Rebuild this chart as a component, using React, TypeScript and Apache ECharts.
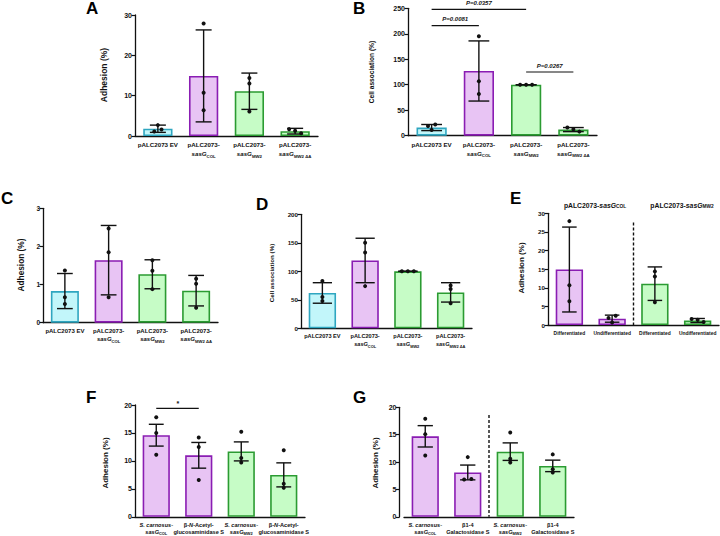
import React, { useEffect, useRef } from "react";
import * as echarts from "echarts";

const FONT = "'Liberation Sans', Arial, sans-serif";
const TXT = "#111111";

// ---------- categories / labels ----------
const labelsPALC = [
  "pALC2073 EV",
  "pALC2073-\n{i|sasG}{s|COL}",
  "pALC2073-\n{i|sasG}{s|MW2}",
  "pALC2073-\n{i|sasG}{s|MW2 ΔA}",
];
const labelsE = ["Differentiated", "Undifferentiated", "Differentiated", "Undifferentiated"];
const labelsF = [
  "{it|S. carnosus-}\n{i|sasG}{s|COL}",
  "β-{it|N}-Acetyl-\nglucosaminidase S",
  "{it|S. carnosus-}\n{i|sasG}{s|MW2}",
  "β-{it|N}-Acetyl-\nglucosaminidase S",
];
const labelsG = [
  "{it|S. carnosus-}\n{i|sasG}{s|COL}",
  "β1-4\nGalactosidase S",
  "{it|S. carnosus-}\n{i|sasG}{s|MW2}",
  "β1-4\nGalactosidase S",
];

// ---------- values ----------
const meansA = [1.8, 14.9, 11.1, 1.2];
const errA = [0.9, 11.4, 4.5, 0.7];
const ptsA = [[2.7, 1.6, 1.1], [27.9, 10.7, 6.4], [14.4, 13.0, 6.1], [1.7, 1.3, 0.7]];

const meansB = [16, 127, 100, 12];
const errB = [6, 59, 0, 4];
const ptsB = [[22, 19, 11], [195, 107, 82], [100, 100, 100], [16, 12.5, 8]];

const meansC = [0.83, 1.64, 1.27, 0.84];
const errC = [0.46, 0.91, 0.38, 0.4];
const ptsC = [[1.37, 0.67, 0.49], [2.47, 1.85, 0.67], [1.64, 1.36, 0.88], [1.15, 1.02, 0.39]];

const meansD = [62, 119, 100, 63];
const errD = [18, 39, 0, 17];
const ptsD = [[83, 55, 48], [150, 133, 74], [100, 100, 100], [75, 69, 44]];

const meansE = [14.9, 1.7, 11.1, 1.2];
const errE = [11.4, 0.95, 4.5, 0.55];
const ptsE = [[27.9, 10.7, 6.4], [2.5, 1.9, 0.7], [14.4, 13.0, 6.1], [1.6, 1.4, 0.8]];

const meansF = [14.6, 11.0, 11.7, 7.5];
const errF = [1.95, 2.3, 1.7, 2.15];
const ptsF = [[17.8, 15.0, 11.1], [14.2, 12.5, 6.6], [15.2, 10.5, 9.7], [11.9, 5.9, 5.2]];

const meansG = [14.7, 8.1, 11.9, 9.3];
const errG = [1.95, 1.35, 1.6, 1.05];
const ptsG = [[17.9, 15.1, 11.2], [10.9, 6.9, 6.8], [15.4, 10.6, 9.9], [11.4, 8.7, 8.1]];

const sigB = [
  { from: 0, to: 2, y: 248, text: "P=0.0357" },
  { from: 0, to: 1, y: 216, text: "P=0.0081" },
  { from: 2, to: 3, y: 125, text: "P=0.0267" },
];
const sigF = [{ from: 0, to: 1, y: 19.4, text: "*" }];

// ---------- styles ----------
const CYAN: [string, string] = ["#c2f6fa", "#2fa6c0"];
const PURP: [string, string] = ["#e8c4f4", "#8a1db3"];
const GREEN: [string, string] = ["#c6fcc6", "#2b9b32"];
const colorsPALC = [CYAN, PURP, GREEN, GREEN];
const colorsPair = [PURP, PURP, GREEN, GREEN];

type Sig = { from: number; to: number; y: number; text: string };
type Panel = {
  grid: { left: number; top: number; width: number; height: number };
  labels: string[];
  means: number[];
  errs: number[];
  pts: number[][];
  colors: [string, string][];
  max: number;
  interval: number;
  cap: number;
  labelSize: number;
  tickSize: number;
  yOffset?: number;
  sig?: Sig[];
  divider?: number;
  lineH: number;
};

const panels: Panel[] = [
  { grid: { left: 135, top: 15, width: 183, height: 121 }, labels: labelsPALC, means: meansA, errs: errA, pts: ptsA, colors: colorsPALC, max: 30, interval: 10, cap: 0.35, labelSize: 6.2, tickSize: 7, lineH: 9 },
  { grid: { left: 408, top: 8.3, width: 189, height: 127.4 }, labels: labelsPALC, means: meansB, errs: errB, pts: ptsB, colors: colorsPALC, max: 250, interval: 50, cap: 0.44, labelSize: 6.2, tickSize: 7, sig: sigB, lineH: 9 },
  { grid: { left: 43, top: 208.3, width: 175, height: 114.4 }, labels: labelsPALC, means: meansC, errs: errC, pts: ptsC, colors: colorsPALC, max: 3, interval: 1, cap: 0.36, labelSize: 6, tickSize: 6.5, lineH: 8.5 },
  { grid: { left: 301, top: 214.3, width: 171, height: 114 }, labels: labelsPALC, means: meansD, errs: errD, pts: ptsD, colors: colorsPALC, max: 200, interval: 50, cap: 0.45, labelSize: 5.6, tickSize: 6.2, lineH: 8 },
  { grid: { left: 548, top: 213.3, width: 171, height: 111.7 }, labels: labelsE, means: meansE, errs: errE, pts: ptsE, colors: colorsPair, max: 30, interval: 5, cap: 0.34, labelSize: 4.9, tickSize: 6.2, divider: 27.5, lineH: 8 },
  { grid: { left: 135, top: 405, width: 170, height: 112.7 }, labels: labelsF, means: meansF, errs: errF, pts: ptsF, colors: colorsPair, max: 20, interval: 5, cap: 0.35, labelSize: 5.6, tickSize: 7, sig: sigF, lineH: 7.6 },
  { grid: { left: 404, top: 407.3, width: 170, height: 111 }, labels: labelsG, means: meansG, errs: errG, pts: ptsG, colors: colorsPair, max: 20, interval: 5, cap: 0.36, labelSize: 5.6, tickSize: 7, yOffset: 4.5, divider: 18.6, lineH: 7.6 },
];

function jitter(group: number[], max: number): number[] {
  const thr = max * 0.025;
  const idx = group.map((v, i) => i).sort((a, b) => group[b] - group[a]);
  const out = group.map(() => 0);
  let i = 0;
  while (i < idx.length) {
    let j = i;
    while (j + 1 < idx.length && Math.abs(group[idx[j]] - group[idx[j + 1]]) < thr) j++;
    const n = j - i + 1;
    if (n === 2) {
      out[idx[i]] = 0.6;
      out[idx[i + 1]] = -0.6;
    } else if (n >= 3) {
      for (let k = 0; k < n; k++) out[idx[i + k]] = -1 + (2 * k) / (n - 1);
    }
    i = j + 1;
  }
  return out;
}

function rich(size: number) {
  return {
    i: { fontStyle: "italic", fontWeight: "bold", fontSize: size, fontFamily: FONT, color: TXT },
    it: { fontStyle: "italic", fontWeight: "bold", fontSize: size, fontFamily: FONT, color: TXT },
    s: { fontWeight: "bold", fontSize: size * 0.7, fontFamily: FONT, color: TXT, verticalAlign: "bottom", lineHeight: size * 0.8 },
  };
}

function buildOption() {
  const grid: any[] = [];
  const xAxis: any[] = [];
  const yAxis: any[] = [];
  const series: any[] = [];
  panels.forEach((p, k) => {
    grid.push({ ...p.grid, containLabel: false });
    xAxis.push({
      type: "category",
      gridIndex: k,
      data: p.labels,
      axisLine: { lineStyle: { color: TXT, width: 1.3 } },
      axisTick: { alignWithLabel: true, length: 3.5, lineStyle: { color: TXT, width: 1.2 } },
      axisLabel: {
        interval: 0,
        formatter: (v: string) => v,
        fontSize: p.labelSize,
        fontWeight: "bold",
        fontFamily: FONT,
        color: TXT,
        margin: 4,
        lineHeight: p.lineH,
        rich: rich(p.labelSize),
      },
    });
    yAxis.push({
      type: "value",
      gridIndex: k,
      min: 0,
      max: p.max,
      interval: p.interval,
      offset: p.yOffset || 0,
      splitLine: { show: false },
      axisLine: { show: true, lineStyle: { color: TXT, width: 1.3 } },
      axisTick: { show: true, length: 3.5, lineStyle: { color: TXT, width: 1.2 } },
      axisLabel: { fontSize: p.tickSize, fontWeight: "bold", fontFamily: FONT, color: TXT, margin: 3 },
    });
    series.push({
      type: "bar",
      xAxisIndex: k,
      yAxisIndex: k,
      barWidth: "64%",
      z: 2,
      data: p.means.map((m, i) => ({
        value: m,
        itemStyle: { color: p.colors[i][0], borderColor: p.colors[i][1], borderWidth: 1.6 },
      })),
    });
    series.push({
      type: "custom",
      xAxisIndex: k,
      yAxisIndex: k,
      z: 3,
      data: p.means.map((m, i) => [i, m, p.errs[i]]),
      renderItem: (params: any, api: any) => {
        const i = api.value(0);
        const m = api.value(1);
        const e = api.value(2);
        const top = api.coord([i, m + e]);
        const bot = api.coord([i, Math.max(0, m - e)]);
        const half = (api.size([1, 0])[0] * p.cap) / 2;
        const st = { stroke: "#111", lineWidth: 1.4 };
        return {
          type: "group",
          children: [
            { type: "line", shape: { x1: top[0], y1: top[1], x2: bot[0], y2: bot[1] }, style: st },
            { type: "line", shape: { x1: top[0] - half, y1: top[1], x2: top[0] + half, y2: top[1] }, style: st },
            { type: "line", shape: { x1: bot[0] - half, y1: bot[1], x2: bot[0] + half, y2: bot[1] }, style: st },
          ],
        };
      },
    });
    const ptData: number[][] = [];
    p.pts.forEach((g, i) => {
      const j = jitter(g, p.max);
      g.forEach((v, n) => ptData.push([i, v, j[n]]));
    });
    series.push({
      type: "custom",
      xAxisIndex: k,
      yAxisIndex: k,
      z: 4,
      data: ptData,
      renderItem: (params: any, api: any) => {
        const c = api.coord([api.value(0), api.value(1)]);
        return {
          type: "circle",
          shape: { cx: c[0] + api.value(2) * 6, cy: c[1], r: 2 },
          style: { fill: "#111" },
        };
      },
    });
    if (p.sig) {
      const sig = p.sig;
      series.push({
        type: "custom",
        xAxisIndex: k,
        yAxisIndex: k,
        z: 5,
        clip: false,
        data: sig.map((s) => [s.from, s.y]),
        renderItem: (params: any, api: any) => {
          const s = sig[params.dataIndex];
          const a = api.coord([s.from, s.y]);
          const b = api.coord([s.to, s.y]);
          return {
            type: "group",
            children: [
              { type: "line", shape: { x1: a[0], y1: a[1], x2: b[0], y2: a[1] }, style: { stroke: "#111", lineWidth: 1.2 } },
              {
                type: "text",
                style: {
                  text: s.text,
                  x: (a[0] + b[0]) / 2,
                  y: a[1] - (s.text === "*" ? 5 : 6.5),
                  align: "center",
                  verticalAlign: "middle",
                  fontSize: s.text === "*" ? 7 : 6,
                  fontWeight: "bold",
                  fontStyle: "italic",
                  fontFamily: FONT,
                  fill: TXT,
                },
              },
            ],
          };
        },
      });
    }
    if (p.divider !== undefined) {
      const top = p.divider;
      series.push({
        type: "custom",
        xAxisIndex: k,
        yAxisIndex: k,
        z: 5,
        data: [[1, top]],
        renderItem: (params: any, api: any) => {
          const a = api.coord([1, api.value(1)]);
          const b = api.coord([2, api.value(1)]);
          const z0 = api.coord([1, 0]);
          const x = (a[0] + b[0]) / 2;
          return {
            type: "line",
            shape: { x1: x, y1: a[1], x2: x, y2: z0[1] },
            style: { stroke: "#111", lineWidth: 1.4, lineDash: [3, 2] },
          };
        },
      });
    }
  });

  const letter = (t: string, x: number, y: number) => ({
    type: "text",
    x,
    y,
    style: { text: t, fontSize: 17, fontWeight: "bold", fontFamily: FONT, fill: "#000", align: "left", verticalAlign: "middle" },
  });
  const ytitle = (t: string, x: number, y: number, size: number) => ({
    type: "text",
    x,
    y,
    rotation: Math.PI / 2,
    style: { text: t, fontSize: size, fontWeight: "bold", fontFamily: FONT, fill: TXT, align: "center", verticalAlign: "middle" },
  });
  const etitle = (sub: string, x: number, y: number) => ({
    type: "text",
    x,
    y,
    style: {
      text: "pALC2073-{i|sasG}{s|" + sub + "}",
      fontSize: 6.8,
      fontWeight: "bold",
      fontFamily: FONT,
      fill: TXT,
      align: "center",
      verticalAlign: "middle",
      rich: {
        i: { fontSize: 6.8, fontWeight: "bold", fontStyle: "italic", fontFamily: FONT, fill: TXT },
        s: { fontSize: 4.8, fontWeight: "bold", fontFamily: FONT, fill: TXT, verticalAlign: "bottom", lineHeight: 6 },
      },
    },
  });

  const graphic = [
    letter("A", 86, 8),
    letter("B", 353, 8),
    letter("C", 1, 198),
    letter("D", 256, 204),
    letter("E", 510, 198),
    letter("F", 86, 397),
    letter("G", 353, 397),
    ytitle("Adhesion (%)", 104, 75, 8.5),
    ytitle("Cell association (%)", 371, 72, 6.6),
    ytitle("Adhesion (%)", 20.5, 265, 8.3),
    ytitle("Cell association (%)", 271, 273, 6.2),
    ytitle("Adhesion (%)", 521.5, 268, 8),
    ytitle("Adhesion (%)", 105, 463, 8),
    ytitle("Adhesion (%)", 375, 463, 8),
    etitle("COL", 595, 205),
    etitle("MW2", 682, 205),
  ];

  return { animation: false, backgroundColor: "#fff", grid, xAxis, yAxis, series, graphic };
}

export default function App() {
  const ref = useRef<HTMLDivElement>(null);
  useEffect(() => {
    if (!ref.current) return;
    const chart = echarts.init(ref.current, undefined, { renderer: "svg" });
    chart.setOption(buildOption() as any);
    return () => chart.dispose();
  }, []);
  return (
    <div
      ref={ref}
      style={{ position: "absolute", left: 0, top: 0, width: 720, height: 536, background: "#fff" }}
    />
  );
}
